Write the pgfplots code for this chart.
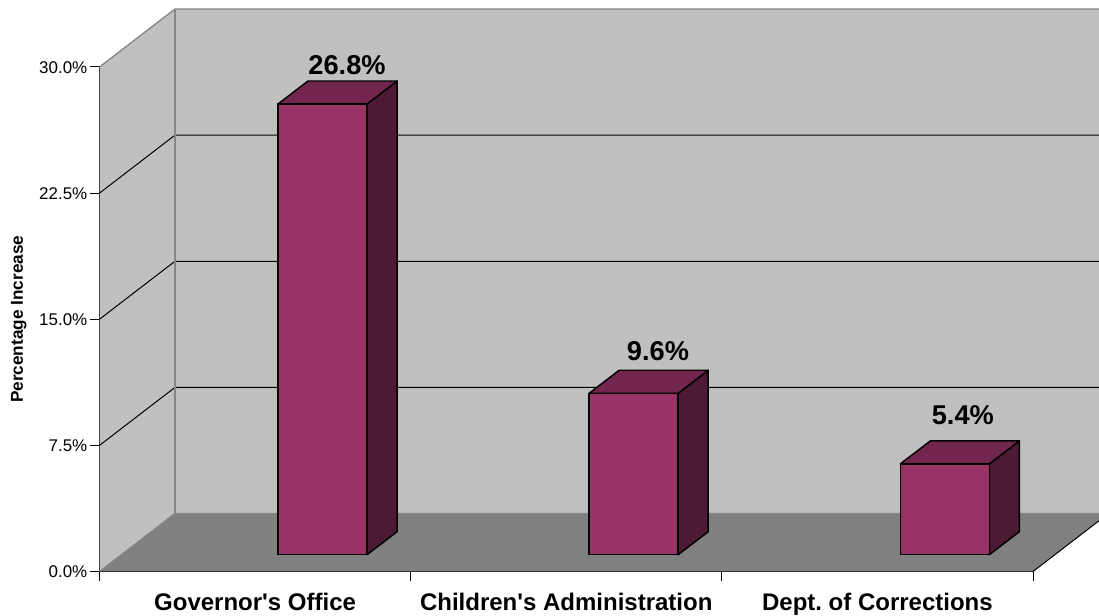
\documentclass[border=0pt]{standalone}
\usepackage{pgfplots}
\pgfplotsset{compat=1.18}
\usepackage{fontspec}
\defaultfontfeatures[\rmfamily]{}
\setmainfont{Liberation Sans}
\definecolor{wallgray}{HTML}{C0C0C0}
\definecolor{floorgray}{HTML}{808080}
\definecolor{edgegray}{HTML}{868686}
\definecolor{barfront}{HTML}{993366}
\definecolor{bartop}{HTML}{73264D}
\definecolor{barside}{HTML}{4D1A33}
\begin{document}
\begin{tikzpicture}[x=1pt,y=1pt]
\useasboundingbox (0,0) rectangle (824.25,462);

% Walls, floor and value axis of the chart box
\begin{axis}[
  at={(74.625pt,33.375pt)}, anchor=south west,
  scale only axis, width=700.125pt, height=378.375pt,
  xmin=0, xmax=3, ymin=0, ymax=30,
  clip=false,
  axis x line=bottom, axis y line=left,
  axis line style={-, black, line width=0.8pt},
  tick align=outside,
  major tick length=7pt,
  tick style={black, line width=0.75pt},
  xtick={0,1,2,3}, xticklabels={},
  extra x ticks={0.5,1.5,2.5},
  extra x tick labels={Governor's Office,Children's Administration,Dept.\ of Corrections},
  extra x tick style={
    major tick length=0pt,
    xticklabel style={font=\bfseries\fontsize{18pt}{20pt}\selectfont, anchor=base, yshift=-29.6pt, inner sep=0pt, text=black},
  },
  ytick={0,7.5,15,22.5,30},
  yticklabel={\pgfmathprintnumber[fixed,fixed zerofill,precision=1]{\tick}\%},
  yticklabel style={font=\fontsize{12.7pt}{14pt}\selectfont, /pgf/number format/assume math mode=true, inner sep=0pt, anchor=east, xshift=-2pt, yshift=-0.4pt},
  ylabel={Percentage Increase},
  every axis y label/.style={at={(rel axis cs:0,0.5)}, rotate=90, anchor=base, yshift=57.5pt},
  ylabel style={font=\bfseries\fontsize{12.9pt}{14pt}\selectfont},
]
\addplot[fill=wallgray, draw=none] coordinates {(0,0) (0.2426,3.448) (0.2426,33.448) (0,30)} -- cycle;
\addplot[fill=wallgray, draw=none] coordinates {(0.2426,3.448) (3.212,3.448) (3.212,33.448) (0.2426,33.448)} -- cycle;
\addplot[fill=floorgray, draw=none] coordinates {(0,0) (3,0) (3.212,3.014) (3.212,3.448) (0.2426,3.448)} -- cycle;
% Gridlines across the side wall and the back wall
\addplot[black, line width=0.75pt] coordinates {(0,7.5) (0.2426,10.948) (3.212,10.948)};
\addplot[black, line width=0.75pt] coordinates {(0,15) (0.2426,18.448) (3.212,18.448)};
\addplot[black, line width=0.75pt] coordinates {(0,22.5) (0.2426,25.948) (3.212,25.948)};
% Box edges
\addplot[edgegray, line width=1pt] coordinates {(0,30) (0.2426,33.448) (3.212,33.448)};
\addplot[edgegray, line width=1pt] coordinates {(0.2426,33.448) (0.2426,3.448)};
\addplot[edgegray, line width=1pt] coordinates {(0,0) (0.2426,3.448) (3.212,3.448)};
\addplot[black, line width=0.75pt] coordinates {(3,0) (3.212,3.014)};
\end{axis}

% Bars, on a plane set slightly into the box
\begin{axis}[
  at={(125.2pt,45.975pt)}, anchor=south west,
  scale only axis, width=700.125pt, height=378.375pt,
  xmin=0, xmax=3, ymin=0, ymax=30,
  clip=false, hide axis,
]
\addplot[fill=barside, draw=black, line width=1.1pt, line join=round] coordinates {(0.6431,0) (0.7395,1.367) (0.7395,28.167) (0.6431,26.8)} -- cycle;
\addplot[fill=bartop, draw=black, line width=1.1pt, line join=round] coordinates {(0.3569,26.8) (0.6431,26.8) (0.7395,28.167) (0.4533,28.167)} -- cycle;
\addplot[fill=barside, draw=black, line width=1.1pt, line join=round] coordinates {(1.6431,0) (1.7395,1.367) (1.7395,10.967) (1.6431,9.6)} -- cycle;
\addplot[fill=bartop, draw=black, line width=1.1pt, line join=round] coordinates {(1.3569,9.6) (1.6431,9.6) (1.7395,10.967) (1.4533,10.967)} -- cycle;
\addplot[fill=barside, draw=black, line width=1.1pt, line join=round] coordinates {(2.6431,0) (2.7395,1.367) (2.7395,6.767) (2.6431,5.4)} -- cycle;
\addplot[fill=bartop, draw=black, line width=1.1pt, line join=round] coordinates {(2.3569,5.4) (2.6431,5.4) (2.7395,6.767) (2.4533,6.767)} -- cycle;
\addplot[
  ybar, bar width=66.75pt, bar shift=0pt,
  fill=barfront, draw=black, line width=1.1pt,
  point meta=y,
  nodes near coords={\pgfmathprintnumber[fixed,fixed zerofill,precision=1,assume math mode=true]{\pgfplotspointmeta}\%},
  every node near coord/.append style={
    font=\bfseries\fontsize{20.4pt}{22pt}\selectfont, text=black, anchor=center, inner sep=0pt,
  },
  coordinate style/.condition={x==0.5}{xshift=18.4pt, yshift=28.8pt},
  coordinate style/.condition={x==1.5}{xshift=18.2pt, yshift=31.5pt},
  coordinate style/.condition={x==2.5}{xshift=13.5pt, yshift=36.7pt},
] coordinates {(0.5,26.8) (1.5,9.6) (2.5,5.4)};
\end{axis}
\end{tikzpicture}
\end{document}
